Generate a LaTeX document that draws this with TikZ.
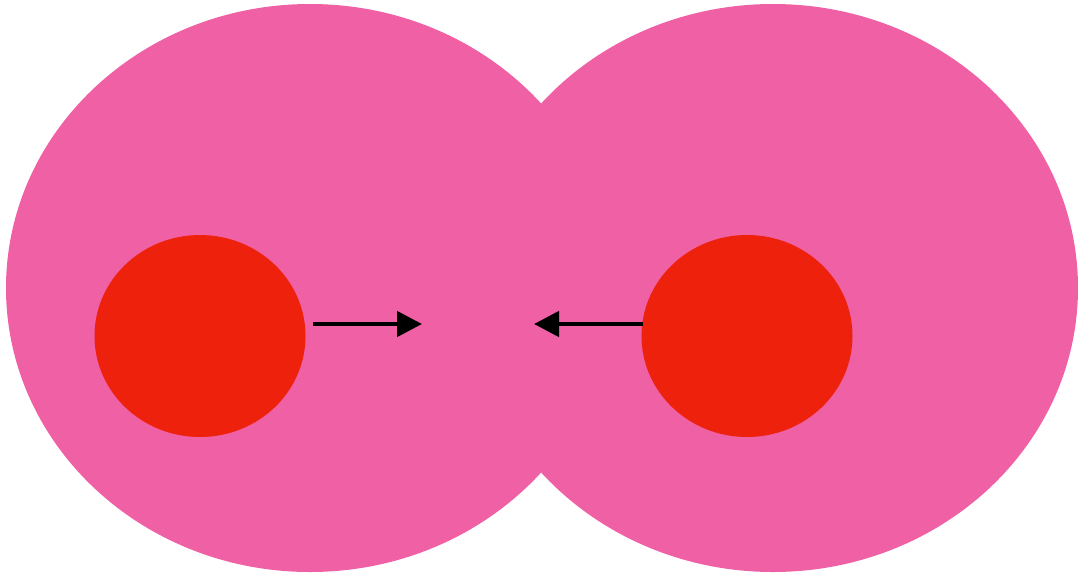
\documentclass[tikz,border=0pt]{standalone}
\usetikzlibrary{shapes.geometric,arrows.meta}
\definecolor{pinkbg}{HTML}{EF60A5}
\definecolor{redc}{HTML}{EE210D}
\begin{document}
\begin{tikzpicture}[x=1pt,y=-1pt,
  blob/.style={ellipse,fill=pinkbg,draw=none,inner sep=0pt},
  core/.style={ellipse,fill=redc,draw=none,inner sep=0pt,minimum width=211pt,minimum height=202pt},
  push/.style={line width=4.5pt,-{Triangle[length=25pt,width=25pt]}}]
\useasboundingbox (0,0) rectangle (1078,574);
\node[blob,minimum width=608pt,minimum height=568pt] (b1) at (310,288) {};
\node[blob,minimum width=610pt,minimum height=568pt] (b2) at (773,288) {};
\node[core] (r1) at (200,336) {};
\node[core] (r2) at (747,336) {};
\coordinate (a1s) at (313,324);
\coordinate (a1e) at (422,324);
\coordinate (a2s) at (643,324);
\coordinate (a2e) at (534,324);
\draw[push] (a1s) -- (a1e);
\draw[push] (a2s) -- (a2e);
\end{tikzpicture}
\end{document}
